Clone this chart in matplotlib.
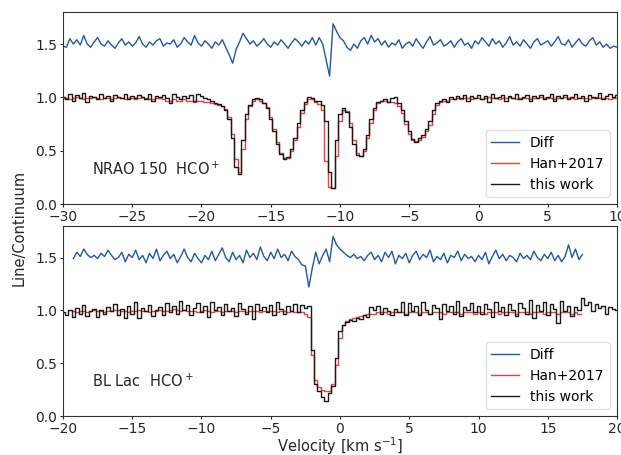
import matplotlib
matplotlib.use("Agg")
import matplotlib.pyplot as plt
import numpy as np

nan = np.nan

# velocity channels (km/s)
vel_top = np.linspace(-30, 10, 161)
vel_bot = np.linspace(-20, 20, 161)

# NRAO 150 HCO+
nrao_this = [
    1.00, 0.98, 1.03, 0.97, 1.02, 0.99, 1.04, 0.96, 1.01, 1.00, 0.98, 1.03, 0.99, 1.01, 0.97, 1.02, 1.00, 0.99, 1.03, 0.98,
    1.01, 0.99, 1.02, 1.00, 0.98, 1.03, 0.97, 1.01, 1.00, 1.02, 0.99, 0.95, 1.03, 1.00, 0.98, 1.01, 0.99, 1.02, 0.97, 1.03,
    1.01, 0.99, 0.98, 0.97, 0.95, 0.94, 0.92, 0.88, 0.80, 0.62, 0.35, 0.28, 0.60, 0.84, 0.93, 0.98, 0.99, 0.98, 0.95, 0.90,
    0.80, 0.68, 0.56, 0.47, 0.42, 0.44, 0.52, 0.62, 0.76, 0.88, 0.96, 1.00, 0.99, 0.97, 0.97, 0.93, 0.78, 0.30, 0.15, 0.60,
    0.84, 0.90, 0.86, 0.72, 0.56, 0.46, 0.45, 0.52, 0.65, 0.80, 0.90, 0.96, 0.97, 0.98, 0.96, 0.99, 1.00, 0.95, 0.88, 0.78,
    0.68, 0.61, 0.58, 0.62, 0.65, 0.70, 0.78, 0.88, 0.95, 0.97, 0.98, 0.96, 1.00, 0.98, 1.01, 0.99, 1.02, 0.97, 1.01, 0.99,
    1.02, 0.98, 1.01, 0.96, 1.03, 0.99, 1.00, 1.02, 0.97, 1.01, 0.99, 1.03, 0.98, 1.00, 1.02, 0.97, 1.01, 0.99, 1.02, 0.98,
    1.00, 1.03, 0.97, 1.01, 0.99, 1.02, 0.98, 1.00, 1.03, 0.99, 1.01, 0.97, 1.02, 1.00, 0.99, 1.04, 0.98, 1.01, 1.03, 1.00,
    1.02]
nrao_han = [
    0.99, 0.99, 0.98, 0.99, 1.00, 0.99, 0.98, 0.99, 0.99, 1.00, 0.99, 0.98, 0.99, 0.99, 0.98, 0.99, 1.00, 0.99, 0.98, 0.99,
    0.99, 0.98, 0.99, 1.00, 0.99, 0.98, 0.98, 0.99, 0.99, 0.98, 0.97, 0.97, 0.98, 0.97, 0.97, 0.98, 0.97, 0.97, 0.96, 0.97,
    0.97, 0.96, 0.96, 0.95, 0.94, 0.93, 0.92, 0.89, 0.82, 0.66, 0.42, 0.30, 0.52, 0.80, 0.92, 0.97, 0.98, 0.97, 0.95, 0.91,
    0.82, 0.70, 0.58, 0.48, 0.43, 0.43, 0.50, 0.60, 0.72, 0.85, 0.94, 0.98, 0.98, 0.96, 0.94, 0.88, 0.40, 0.16, 0.15, 0.45,
    0.78, 0.88, 0.87, 0.76, 0.60, 0.48, 0.45, 0.50, 0.62, 0.76, 0.88, 0.95, 0.97, 0.97, 0.96, 0.96, 0.95, 0.92, 0.85, 0.75,
    0.66, 0.60, 0.59, 0.60, 0.63, 0.68, 0.74, 0.84, 0.93, 0.96, 0.97, 0.97, 0.98, 0.98, 0.99, 0.98, 0.99, 0.99, 0.98, 0.99,
    0.99, 0.98, 0.99, 1.00, 0.99, 0.99, 0.98, 0.99, 0.99, 1.00, 0.99, 0.98, 0.99, 0.99, 0.99, 0.98, 0.99, 0.99, 1.00, 0.99,
    0.99, 0.99, 0.98, 0.99, 0.99, 1.00, 0.99, 0.99, 0.98, 0.99, 0.99, 0.99, 0.98, 0.99, 1.00, 0.99, 0.99, 0.99, 0.98, 0.99,
    0.99]
nrao_diff = [
    1.48, 1.47, 1.55, 1.50, 1.54, 1.49, 1.58, 1.50, 1.47, 1.52, 1.56, 1.50, 1.48, 1.53, 1.49, 1.46, 1.51, 1.55, 1.49, 1.52,
    1.48, 1.51, 1.57, 1.50, 1.47, 1.52, 1.49, 1.53, 1.55, 1.48, 1.51, 1.50, 1.54, 1.47, 1.50, 1.56, 1.52, 1.49, 1.58, 1.51,
    1.48, 1.53, 1.50, 1.46, 1.52, 1.49, 1.54, 1.47, 1.40, 1.32, 1.45, 1.52, 1.60, 1.55, 1.50, 1.53, 1.48, 1.51, 1.55, 1.50,
    1.47, 1.52, 1.49, 1.54, 1.50, 1.46, 1.51, 1.55, 1.52, 1.48, 1.53, 1.50, 1.56, 1.49, 1.56, 1.50, 1.35, 1.20, 1.69, 1.62,
    1.56, 1.53, 1.47, 1.44, 1.50, 1.46, 1.53, 1.56, 1.50, 1.58, 1.52, 1.55, 1.49, 1.53, 1.47, 1.51, 1.49, 1.54, 1.46, 1.50,
    1.52, 1.48, 1.55, 1.50, 1.46, 1.52, 1.57, 1.49, 1.51, 1.54, 1.48, 1.50, 1.53, 1.47, 1.52, 1.55, 1.49, 1.51, 1.46, 1.53,
    1.50, 1.56, 1.52, 1.48, 1.55, 1.50, 1.53, 1.47, 1.51, 1.57, 1.49, 1.52, 1.48, 1.54, 1.50, 1.46, 1.52, 1.55, 1.49, 1.51,
    1.53, 1.48, 1.52, 1.57, 1.50, 1.49, 1.54, 1.47, 1.51, 1.55, 1.50, 1.48, 1.53, 1.56, 1.49, 1.52, 1.47, 1.50, 1.46, 1.48,
    1.47]

# BL Lac HCO+
bllac_this = [
    0.98, 0.96, 1.00, 0.94, 1.02, 0.97, 1.05, 0.95, 0.99, 1.01, 0.94, 1.00, 0.97, 1.03, 0.99, 1.06, 0.96, 1.01, 0.93, 1.04,
    0.97, 1.08, 0.93, 1.02, 0.99, 1.05, 0.95, 1.00, 1.03, 0.96, 1.07, 0.98, 1.04, 0.97, 1.09, 1.00, 1.05, 0.96, 1.02, 1.07,
    0.98, 1.04, 0.94, 1.08, 1.00, 1.03, 0.96, 1.06, 0.99, 1.02, 0.95, 1.07, 1.01, 0.97, 1.04, 0.92, 1.06, 1.00, 1.03, 0.98,
    1.05, 0.96, 1.08, 1.01, 0.97, 1.04, 0.99, 1.06, 0.98, 1.05, 1.02, 1.04, 0.62, 0.30, 0.24, 0.18, 0.14, 0.22, 0.28, 0.55,
    0.80, 0.86, 0.89, 0.91, 0.90, 0.93, 0.92, 0.96, 0.94, 1.03, 1.00, 1.04, 0.97, 1.02, 0.99, 0.96, 1.01, 0.98, 1.08, 0.96,
    1.07, 0.99, 1.04, 0.96, 1.08, 1.00, 0.97, 1.05, 1.02, 0.92, 1.06, 0.99, 1.04, 0.97, 1.09, 0.95, 1.03, 1.00, 1.07, 0.98,
    1.04, 0.97, 1.06, 1.01, 0.94, 1.08, 0.99, 1.03, 0.96, 1.06, 1.00, 0.95, 1.07, 1.02, 0.97, 1.10, 0.93, 1.05, 0.99, 1.08,
    0.96, 1.06, 1.01, 0.88, 1.09, 0.99, 1.04, 0.95, 1.03, 1.00, 1.12, 1.05, 1.08, 0.99, 1.06, 1.02, 1.04, 0.97, 1.03, 1.01,
    1.00]
bllac_han = [
    nan, nan, nan, 0.99, 0.98, 0.99, 0.99, 0.98, 0.99, 1.00, 0.99, 0.99, 0.98, 0.99, 0.99, 1.00, 1.00, 0.99, 0.99, 0.98,
    0.99, 0.99, 1.00, 0.99, 0.99, 0.98, 0.99, 0.99, 1.00, 0.99, 0.99, 1.00, 1.01, 1.00, 0.99, 1.00, 0.99, 0.99, 0.99, 0.98,
    0.99, 1.00, 0.99, 0.98, 0.99, 0.99, 0.98, 0.99, 0.99, 0.99, 0.98, 0.99, 0.99, 0.98, 0.99, 0.99, 0.99, 0.98, 0.99, 0.99,
    0.99, 0.99, 0.98, 0.99, 0.99, 0.98, 0.99, 0.98, 0.98, 0.98, 0.97, 0.94, 0.58, 0.34, 0.27, 0.25, 0.24, 0.24, 0.30, 0.48,
    0.74, 0.86, 0.90, 0.92, 0.93, 0.94, 0.95, 0.96, 0.97, 0.97, 0.97, 0.98, 0.98, 0.98, 0.97, 0.98, 0.98, 0.98, 0.98, 0.97,
    0.98, 0.98, 0.98, 0.97, 0.98, 0.98, 0.97, 0.98, 0.98, 0.98, 0.97, 0.98, 0.98, 0.98, 0.98, 0.97, 0.98, 0.98, 0.98, 0.97,
    0.98, 0.98, 0.97, 0.98, 0.98, 0.98, 0.97, 0.98, 0.98, 0.98, 0.98, 0.97, 0.98, 0.98, 0.98, 0.97, 0.98, 0.98, 0.98, 0.97,
    0.98, 0.98, 0.98, 0.97, 0.98, 0.98, 0.98, 0.97, 0.98, 0.97, nan, nan, nan, nan, nan, nan, nan, nan, nan, nan,
    nan]
bllac_diff = [
    nan, nan, nan, 1.49, 1.55, 1.51, 1.58, 1.53, 1.50, 1.52, 1.49, 1.54, 1.51, 1.57, 1.52, 1.48, 1.50, 1.55, 1.46, 1.53,
    1.50, 1.57, 1.48, 1.52, 1.45, 1.54, 1.49, 1.58, 1.47, 1.52, 1.56, 1.49, 1.53, 1.45, 1.51, 1.58, 1.50, 1.46, 1.54, 1.49,
    1.45, 1.52, 1.48, 1.56, 1.47, 1.53, 1.59, 1.50, 1.46, 1.55, 1.48, 1.52, 1.45, 1.57, 1.50, 1.54, 1.48, 1.60, 1.51, 1.47,
    1.55, 1.49, 1.58, 1.50, 1.53, 1.47, 1.56, 1.51, 1.48, 1.43, 1.42, 1.22, 1.40, 1.55, 1.44, 1.52, 1.58, 1.46, 1.70, 1.62,
    1.58, 1.55, 1.52, 1.50, 1.53, 1.49, 1.51, 1.47, 1.52, 1.55, 1.48, 1.52, 1.46, 1.55, 1.50, 1.56, 1.44, 1.52, 1.49, 1.54,
    1.45, 1.52, 1.56, 1.48, 1.53, 1.50, 1.57, 1.46, 1.51, 1.48, 1.54, 1.45, 1.52, 1.50, 1.56, 1.47, 1.53, 1.49, 1.51, 1.46,
    1.52, 1.48, 1.55, 1.44, 1.51, 1.57, 1.49, 1.53, 1.47, 1.52, 1.50, 1.46, 1.54, 1.49, 1.52, 1.48, 1.56, 1.50, 1.47, 1.53,
    1.49, 1.55, 1.47, 1.52, 1.46, 1.51, 1.62, 1.50, 1.58, 1.48, 1.53, nan, nan, nan, nan, nan, nan, nan, nan, nan,
    nan]

c_diff = '#2256b0'
c_han = '#ee1c1c'
c_this = '#1a1a1a'

fig = plt.figure(figsize=(6.21, 4.55), dpi=100)
ax1 = fig.add_axes([0.1014, 0.5516, 0.8922, 0.422])
ax2 = fig.add_axes([0.1014, 0.0857, 0.8922, 0.418])

panels = [
    (ax1, vel_top, nrao_diff, nrao_han, nrao_this, (-30, 10), 'NRAO 150  HCO$^+$'),
    (ax2, vel_bot, bllac_diff, bllac_han, bllac_this, (-20, 20), 'BL Lac  HCO$^+$'),
]

for ax, v, diff, han, this, xlim, label in panels:
    ax.plot(v, diff, color=c_diff, lw=1.0, label='Diff')
    ax.plot(v, han, color=c_han, lw=1.0, alpha=0.85, drawstyle='steps-mid', label='Han+2017')
    ax.plot(v, this, color=c_this, lw=1.0, drawstyle='steps-mid', label='this work')
    ax.set_xlim(*xlim)
    ax.set_ylim(0, 1.8)
    ax.set_yticks([0.0, 0.5, 1.0, 1.5])
    ax.set_xticks(np.arange(xlim[0], xlim[1] + 1, 5))
    ax.tick_params(labelsize=10, length=2.5, pad=1.5, colors='#262626')
    for s in ax.spines.values():
        s.set_color('#333333')
    ax.text(0.052, 0.15, label, transform=ax.transAxes, fontsize=10.5, color='#262626')
    ax.legend(loc='lower right', fontsize=10, framealpha=0.9, edgecolor='#dddddd')

ax2.set_xlabel('Velocity [km s$^{-1}$]', fontsize=10.5, color='#262626', labelpad=-0.5)
fig.text(0.03, 0.5, 'Line/Continuum', rotation=90, va='center', ha='center', fontsize=10.5, color='#262626')

fig.savefig('out.png', dpi=100)
